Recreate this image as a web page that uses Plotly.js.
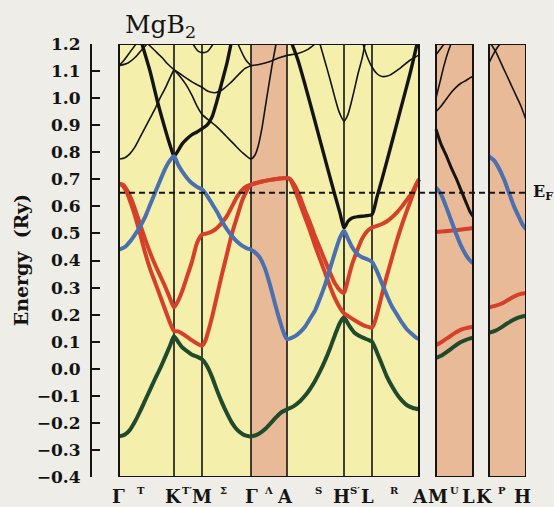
<!DOCTYPE html>
<html>
<head>
<meta charset="utf-8">
<script src="https://cdn.plot.ly/plotly-3.0.1.min.js"></script>
<style>html,body{margin:0;padding:0;background:#eeede7;}#chart{width:554px;height:507px;}</style>
</head>
<body>
<div id="chart"></div>
<script>
// k-path node positions (arbitrary k-distance units)
const nodeK = [0, 55, 83, 132, 168, 225, 253, 300];
const panel2K = [317, 354];
const panel3K = [370, 407];
const saltK = [132, 168];
const fermiE = 0.65;

// x labels
const labelK    = [-1, 54, 83, 132, 166, 222, 248, 301, 319, 349, 365, 403];
const labelText = ['Γ','K','M','Γ','A','H','L','A','M','L','K','H'];
const subLabelK    = [22, 67.5, 104, 149, 199, 236, 275, 335, 383];
const subLabelText = ['T','T′','Σ','Λ','S','S′','R','U','P'];

// bands: green (lowest)
const greenK = [0,6,11,16,21,26,31,36,41,46,51,55,59,63,68,73,78,83,88,93,98,103,108,113,118,123,128,132,137,142,147,152,157,162,168,174,181,186,191,196,201,206,211,216,221,225,230,235,240,245,249,253,258,263,268,273,278,283,288,294,300];
const greenE = [-0.25,-0.243,-0.225,-0.195,-0.158,-0.118,-0.078,-0.038,0.0,0.042,0.085,0.12,0.1,0.08,0.065,0.052,0.045,0.035,0.01,-0.03,-0.08,-0.125,-0.165,-0.2,-0.225,-0.24,-0.248,-0.25,-0.245,-0.235,-0.22,-0.2,-0.18,-0.162,-0.15,-0.14,-0.12,-0.1,-0.075,-0.045,-0.01,0.03,0.075,0.125,0.17,0.19,0.16,0.135,0.122,0.113,0.107,0.1,0.06,0.015,-0.03,-0.065,-0.095,-0.118,-0.135,-0.145,-0.15];
const greenP2K = [317,323,329,335,341,347,354];
const greenP2E = [0.04,0.05,0.065,0.082,0.097,0.107,0.115];
const greenP3K = [370,376,382,388,394,400,407];
const greenP3E = [0.133,0.14,0.152,0.167,0.18,0.19,0.196];

// red sigma bands
const redAK = [0,4,8,12,16,21,26,31,36,41,46,51,55,59,63,68,73,78,83,86,89,93,98,103,108,113,118,123,128,132,141,151,161,168,171,176,181,186,191,196,201,206,211,216,221,225,231,239,246,253,256,260,264,268,273,278,283,288,293,297,300];
const redAE = [0.685,0.675,0.65,0.61,0.565,0.5,0.43,0.37,0.32,0.27,0.22,0.17,0.14,0.138,0.13,0.118,0.105,0.093,0.085,0.1,0.135,0.19,0.27,0.35,0.425,0.5,0.56,0.62,0.66,0.68,0.69,0.698,0.703,0.705,0.7,0.66,0.61,0.56,0.51,0.455,0.405,0.355,0.305,0.26,0.225,0.205,0.19,0.172,0.158,0.152,0.175,0.23,0.29,0.345,0.41,0.475,0.533,0.585,0.635,0.675,0.7];
const redBK = [0,4,8,12,16,21,26,31,36,41,46,51,55,59,63,68,73,78,83,88,93,98,103,108,113,118,123,128,132,141,151,161,168,171,176,181,186,191,196,201,206,211,216,221,225,229,233,238,243,248,253,258,263,268,273,278,283,288,293,297,300];
const redBE = [0.685,0.68,0.66,0.63,0.59,0.535,0.48,0.43,0.385,0.345,0.305,0.26,0.226,0.25,0.285,0.34,0.396,0.465,0.496,0.5,0.507,0.52,0.54,0.565,0.6,0.635,0.66,0.675,0.68,0.69,0.698,0.703,0.705,0.702,0.675,0.635,0.585,0.54,0.49,0.445,0.4,0.355,0.315,0.29,0.28,0.33,0.385,0.435,0.48,0.508,0.522,0.528,0.535,0.545,0.56,0.578,0.6,0.625,0.65,0.68,0.7];
const redP2aK = [317,326,336,346,354];
const redP2aE = [0.505,0.508,0.512,0.516,0.52];
const redP2bK = [317,323,329,335,341,347,354];
const redP2bE = [0.088,0.1,0.115,0.13,0.143,0.15,0.155];
const redP3K = [370,376,382,388,394,400,407];
const redP3E = [0.226,0.232,0.24,0.252,0.265,0.275,0.28];

// blue pi band
const blueK = [0,6,11,16,21,26,31,36,41,46,51,55,59,63,68,73,78,83,88,93,98,103,108,113,118,123,128,132,136,141,146,151,156,161,165,168,176,181,186,191,196,201,206,211,216,221,225,229,233,238,243,248,253,258,263,268,273,278,283,288,293,297,300];
const blueE = [0.44,0.45,0.47,0.496,0.525,0.56,0.605,0.65,0.695,0.738,0.77,0.785,0.755,0.73,0.705,0.685,0.672,0.663,0.64,0.61,0.58,0.545,0.515,0.49,0.47,0.455,0.445,0.44,0.43,0.41,0.37,0.31,0.24,0.175,0.13,0.11,0.12,0.135,0.155,0.185,0.215,0.26,0.31,0.37,0.43,0.485,0.51,0.48,0.45,0.425,0.412,0.405,0.395,0.36,0.315,0.27,0.23,0.2,0.17,0.145,0.128,0.115,0.11];
const blueP2K = [317,322,327,332,337,342,347,351,354];
const blueP2E = [0.67,0.645,0.6,0.55,0.5,0.455,0.42,0.4,0.39];
const blueP3K = [370,375,380,385,390,395,400,404,407];
const blueP3E = [0.785,0.77,0.74,0.7,0.65,0.6,0.56,0.53,0.515];

// black bands, thick
const bk1K = [23,31,39,47,52,55,59,63,68,73,78,83,88,93,98,103,108,112];
const bk1E = [1.2,1.1,0.98,0.875,0.815,0.785,0.805,0.83,0.85,0.865,0.875,0.887,0.9,0.93,0.99,1.06,1.13,1.2];
const bk2K = [173,179,186,193,201,209,216,221,225,229,233,239,246,253,258,263,271,281,291,298];
const bk2E = [1.2,1.14,1.05,0.955,0.845,0.735,0.64,0.575,0.52,0.545,0.557,0.562,0.565,0.57,0.635,0.7,0.81,0.95,1.09,1.2];
const bkP2K = [317,322,327,332,337,342,347,351,354];
const bkP2E = [0.885,0.83,0.79,0.745,0.705,0.66,0.615,0.58,0.563];

// black bands, thin
const t3K = [0,6,11,16,21,26,31,36,41,46,51,55];
const t3E = [0.775,0.78,0.795,0.82,0.855,0.89,0.925,0.96,1.0,1.035,1.075,1.105];
const t7K = [29,36,43,49,55];
const t7E = [1.2,1.175,1.15,1.125,1.105];
const t4K = [55,61,67,73,78,83,89,96,103,111,119,126,132];
const t4E = [1.105,1.09,1.075,1.06,1.05,1.04,1.025,1.02,1.03,1.055,1.085,1.11,1.12];
const t5K = [55,61,67,73,78,83,91,99,107,115,123,132,136,139,143,146,149,153,157];
const t5E = [1.105,1.08,1.05,1.01,0.97,0.94,0.915,0.89,0.86,0.83,0.8,0.775,0.79,0.82,0.89,0.96,1.03,1.12,1.2];
const t6K = [74,78,81,84,87,90,94];
const t6E = [1.2,1.178,1.17,1.168,1.17,1.178,1.2];
const t8K = [0,9,16,23,28];
const t8E = [1.12,1.13,1.15,1.18,1.2];
const t9K = [0,5,11,17];
const t9E = [1.12,1.14,1.17,1.2];
const t10K = [119,124,128,132];
const t10E = [1.2,1.16,1.135,1.12];
const t11K = [132,141,151,161,168,179,189,196];
const t11E = [1.12,1.125,1.135,1.15,1.158,1.165,1.18,1.2];
const t12K = [201,206,211,216,220,225,229,234,239,243,246];
const t12E = [1.2,1.135,1.07,1.0,0.95,0.915,0.94,1.01,1.09,1.145,1.2];
const t13K = [244,248,253,258,263,271,281,291,300];
const t13E = [1.2,1.155,1.115,1.09,1.08,1.085,1.11,1.14,1.16];
const p2t1K = [317,322,327,332,337,342,347,351,354];
const p2t1E = [0.95,0.97,0.995,1.02,1.04,1.055,1.065,1.075,1.08];
const p2t2K = [317,321,325,329,332];
const p2t2E = [1.0,1.06,1.12,1.17,1.2];
const p2t3K = [317,321,325];
const p2t3E = [1.16,1.18,1.2];
const p3t1K = [372,377,382,387,392,397,402,407];
const p3t1E = [1.2,1.17,1.13,1.09,1.05,1.01,0.97,0.92];
const p3t2K = [370,374,378,381];
const p3t2E = [1.13,1.16,1.185,1.2];

const RED = '#d5402a', BLUE = '#4a70b0', GREEN = '#1f4a2c', BLACK = '#141414';
const YELLOW = '#f5efac', SALMON = '#e8ba97', PAPER = '#eeede7';

const traces = [];
function band(k, e, color, width) {
  traces.push({x: k, y: e, type: 'scatter', mode: 'lines',
    line: {color: color, width: width, shape: 'spline', smoothing: 0.6},
    hoverinfo: 'skip', showlegend: false});
}
// thin black
[[t3K,t3E],[t7K,t7E],[t4K,t4E],[t5K,t5E],[t6K,t6E],[t8K,t8E],[t9K,t9E],[t10K,t10E],[t11K,t11E],
 [t12K,t12E],[t13K,t13E],[p2t1K,p2t1E],[p2t2K,p2t2E],[p2t3K,p2t3E],[p3t1K,p3t1E],[p3t2K,p3t2E]]
  .forEach(b => band(b[0], b[1], BLACK, 1.6));
band(bk1K, bk1E, BLACK, 3.4);
band(bk2K, bk2E, BLACK, 3.4);
band(bkP2K, bkP2E, BLACK, 3);
band(greenK, greenE, GREEN, 4);
band(greenP2K, greenP2E, GREEN, 4);
band(greenP3K, greenP3E, GREEN, 4);
band(redAK, redAE, RED, 4);
band(redBK, redBE, RED, 4);
band(redP2aK, redP2aE, RED, 4);
band(redP2bK, redP2bE, RED, 4);
band(redP3K, redP3E, RED, 4);
band(blueK, blueE, BLUE, 4);
band(blueP2K, blueP2E, BLUE, 4);
band(blueP3K, blueP3E, BLUE, 4);

const yMin = -0.4, yMax = 1.2;
const shapes = [];
// panel fills
shapes.push({type:'rect', layer:'below', x0:nodeK[0], x1:saltK[0], y0:yMin, y1:yMax, fillcolor:YELLOW, line:{width:0}});
shapes.push({type:'rect', layer:'below', x0:saltK[0], x1:saltK[1], y0:yMin, y1:yMax, fillcolor:SALMON, line:{width:0}});
shapes.push({type:'rect', layer:'below', x0:saltK[1], x1:nodeK[nodeK.length-1], y0:yMin, y1:yMax, fillcolor:YELLOW, line:{width:0}});
shapes.push({type:'rect', layer:'below', x0:panel2K[0], x1:panel2K[1], y0:yMin, y1:yMax, fillcolor:SALMON, line:{width:0}});
shapes.push({type:'rect', layer:'below', x0:panel3K[0], x1:panel3K[1], y0:yMin, y1:yMax, fillcolor:SALMON, line:{width:0}});
// internal symmetry lines
nodeK.slice(1, -1).forEach(k => shapes.push({type:'line', layer:'below', x0:k, x1:k, y0:yMin, y1:yMax, line:{color:BLACK, width:1.6}}));
// Fermi level
shapes.push({type:'line', layer:'above', x0:nodeK[0], x1:panel3K[1], y0:fermiE, y1:fermiE, line:{color:BLACK, width:2, dash:'6px,4px'}});
// frames
[[nodeK[0], nodeK[nodeK.length-1]], panel2K, panel3K].forEach(p => shapes.push({type:'rect', layer:'above', x0:p[0], x1:p[1], y0:yMin, y1:yMax, line:{color:BLACK, width:2}}));

const SERIF = '"DejaVu Serif", "Liberation Serif", serif';
const annotations = [];
labelK.forEach((k, i) => annotations.push({x:k, y:-0.044, xref:'x', yref:'paper', text:labelText[i], showarrow:false, borderpad:0,
  xanchor:'center', yanchor:'middle', font:{family:SERIF, size:18, color:BLACK, weight:'bold'}}));
subLabelK.forEach((k, i) => annotations.push({x:k, y:-0.031, xref:'x', yref:'paper', text:subLabelText[i], showarrow:false, borderpad:0,
  xanchor:'center', yanchor:'middle', font:{family:SERIF, size:10, color:BLACK, weight:'bold'}}));
annotations.push({x:4, y:1.0, xref:'x', yref:'paper', text:'MgB<sub>2</sub>', showarrow:false, xanchor:'left', yanchor:'bottom',
  font:{family:SERIF, size:25, color:BLACK}});
annotations.push({x:-0.164, y:0.5, xref:'paper', yref:'paper', text:'Energy\u00a0\u00a0(Ry)', textangle:-90, showarrow:false,
  xanchor:'center', yanchor:'middle', font:{family:SERIF, size:19, color:BLACK, weight:'bold'}});
annotations.push({x:1.012, y:fermiE, xref:'paper', yref:'y', text:'E<sub>F</sub>', showarrow:false, xanchor:'left', yanchor:'middle',
  font:{family:SERIF, size:16, color:BLACK, weight:'bold'}});

const layout = {
  width: 554, height: 507,
  margin: {l: 92, r: 28, t: 44, b: 30, pad: 0},
  paper_bgcolor: PAPER, plot_bgcolor: PAPER,
  showlegend: false,
  xaxis: {range: [-27, 407], showgrid: false, zeroline: false, showticklabels: false, ticks: '', showline: false, fixedrange: true},
  yaxis: {range: [yMin, yMax], tick0: 0, dtick: 0.1, tickformat: '.1f', ticks: 'inside', ticklen: 8, tickwidth: 2,
    tickcolor: BLACK, showline: true, linewidth: 2, linecolor: BLACK, showgrid: false, zeroline: false,
    ticklabelstandoff: 6, tickfont: {family: SERIF, size: 17, color: BLACK, weight: 'bold'}, fixedrange: true},
  shapes: shapes,
  annotations: annotations
};
Plotly.newPlot('chart', traces, layout, {displayModeBar: false, staticPlot: true});
</script>
</body>
</html>
